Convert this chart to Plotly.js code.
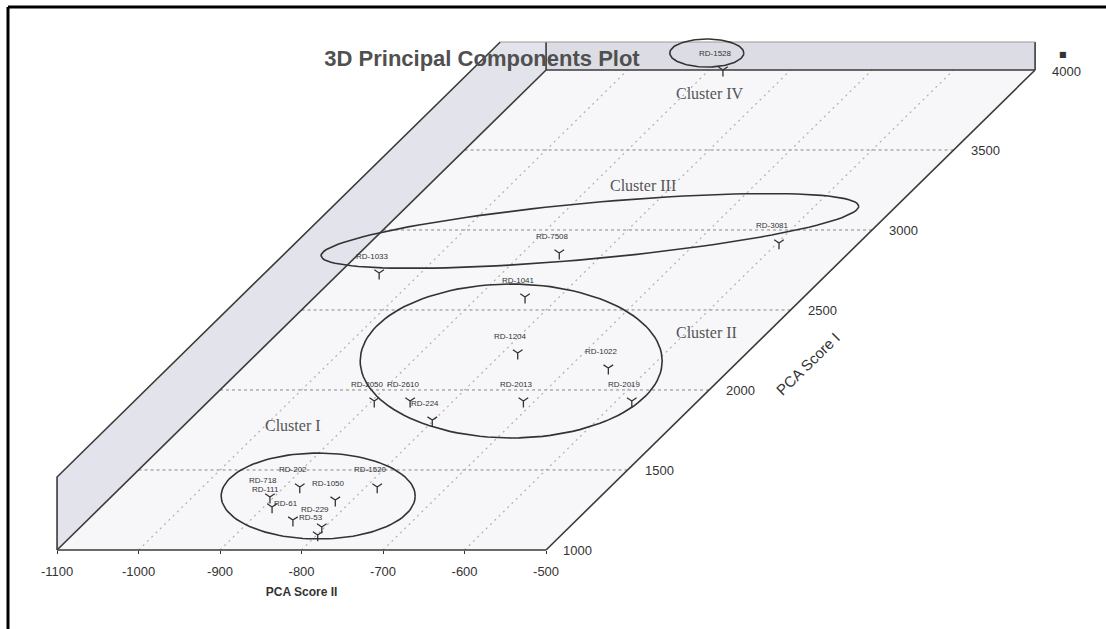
<!DOCTYPE html>
<html><head><meta charset="utf-8">
<script src="https://cdn.plot.ly/plotly-3.0.1.min.js"></script>
<style>html,body{margin:0;padding:0;background:#fff}#chart{width:1106px;height:629px}</style>
</head><body><div id="chart"></div>
<script>
// ---------- data ----------
const scoreIITicks = [-1100, -1000, -900, -800, -700, -600, -500];   // PCA Score II
const scoreITicks  = [1000, 1500, 2000, 2500, 3000, 3500, 4000];     // PCA Score I

const clusterINames   = ['RD-202', 'RD-1520', 'RD-718', 'RD-1050', 'RD-111', 'RD-61', 'RD-229', 'RD-53'];
const clusterIScoreII = [-881, -786, -905, -821, -890, -848, -804, -799];
const clusterIScoreI  = [1394, 1394, 1331, 1312, 1269, 1187, 1144, 1094];

const clusterIINames   = ['RD-1041', 'RD-1204', 'RD-1022', 'RD-2013', 'RD-2019', 'RD-2050', 'RD-2610', 'RD-224'];
const clusterIIScoreII = [-842, -781, -651, -714, -581, -897, -853, -802];
const clusterIIScoreI  = [2581, 2231, 2137, 1931, 1931, 1931, 1931, 1812];

const clusterIIINames   = ['RD-1033', 'RD-7508', 'RD-3081'];
const clusterIIIScoreII = [-1051, -855, -598];
const clusterIIIScoreI  = [2731, 2856, 2919];

const clusterIVNames   = ['RD-1528'];
const clusterIVScoreII = [-883];
const clusterIVScoreI  = [4000];

const clusterTitles        = ['Cluster I', 'Cluster II', 'Cluster III', 'Cluster IV'];
const clusterTitleScoreII  = [-967, -576, -836, -870];
const clusterTitleScoreI   = [1780, 2362, 3275, 3856];
const clusterCentreScoreII = [-847, -779, -845, -924];
const clusterCentreScoreI  = [1337, 2181, 2994, 4106];

// ---------- view / projection ----------
const W = 1106, H = 629;
const xr = [-1170, 187], yr = [506, 4437.5];
const SX = W / (xr[1] - xr[0]), SY = H / (yr[1] - yr[0]);
const SHEAR = 0.2;          // oblique projection of the PCA Score I depth axis
const Y0 = scoreITicks[0];
const WALL_H = 456;         // vertical extent of the walls
const BOX_TOP = 4175;       // top clip of the box
const proj = (X, Y) => X + SHEAR * (Y - Y0);
const X0 = scoreIITicks[0], X1 = scoreIITicks[scoreIITicks.length - 1];
const Ya = scoreITicks[0], Yb = scoreITicks[scoreITicks.length - 1];
const uTop = proj(X0, BOX_TOP - WALL_H);

// ellipse outline styles (pixel semi-axes, tilt)
const ellA = [97, 151, 270, 37], ellB = [43, 77, 28, 14], ellTilt = [0, 0, 5.3, 0];

const traces = [];
// floor
traces.push({x: [proj(X0, Ya), proj(X1, Ya), proj(X1, Yb), proj(X0, Yb)], y: [Ya, Ya, Yb, Yb],
  mode: 'lines', fill: 'toself', fillcolor: '#f7f7fa', line: {width: 0}, hoverinfo: 'skip'});
// left wall
traces.push({x: [proj(X0, Ya), proj(X0, Yb), proj(X0, Yb), uTop, proj(X0, Ya)],
  y: [Ya, Yb, BOX_TOP, BOX_TOP, Ya + WALL_H],
  mode: 'lines', fill: 'toself', fillcolor: '#e3e4eb', line: {width: 0}, hoverinfo: 'skip'});
// back wall strip
traces.push({x: [proj(X0, Yb), proj(X1, Yb), proj(X1, Yb), proj(X0, Yb)], y: [Yb, Yb, BOX_TOP, BOX_TOP],
  mode: 'lines', fill: 'toself', fillcolor: '#dcdde4', line: {width: 0}, hoverinfo: 'skip'});

// grid lines
const gx = [], gy = [];
scoreITicks.slice(1, -1).forEach(Y => { gx.push(proj(X0, Y), proj(X1, Y), null); gy.push(Y, Y, null); });
traces.push({x: gx, y: gy, mode: 'lines', line: {color: '#858585', width: 1, dash: 'dot'}, hoverinfo: 'skip'});
const dx = [], dy = [];
scoreIITicks.slice(1, -1).forEach(X => { dx.push(proj(X, Ya), proj(X, Yb), null); dy.push(Ya, Yb, null); });
traces.push({x: dx, y: dy, mode: 'lines', line: {color: '#b0b0b0', width: 1.2, dash: '2px,4px'}, hoverinfo: 'skip'});

// box edges
const ex = [proj(X0, Ya), proj(X0, Yb), null,
            proj(X1, Ya), proj(X1, Yb), null,
            proj(X0, Yb), proj(X1, Yb), null,
            proj(X0, Ya), proj(X0, Ya), uTop, null,
            proj(X1, Yb), proj(X1, Yb), null,
            proj(X0, Yb), proj(X0, Yb)];
const ey = [Ya, Yb, null, Ya, Yb, null, Yb, Yb, null, Ya, Ya + WALL_H, BOX_TOP, null, Yb, BOX_TOP, null, Yb, BOX_TOP];
traces.push({x: ex, y: ey, mode: 'lines', line: {color: '#3a3a3a', width: 1.6}, hoverinfo: 'skip'});
traces.push({x: [uTop, proj(X1, Yb)], y: [BOX_TOP, BOX_TOP], mode: 'lines', line: {color: '#9a9a9a', width: 1}, hoverinfo: 'skip'});
// front edge on the PCA Score II axis
traces.push({x: [X0, X1], y: [Ya, Ya], xaxis: 'x2', yaxis: 'y', mode: 'lines', line: {color: '#3a3a3a', width: 1.6}, hoverinfo: 'skip'});

// cluster ellipses
clusterTitles.forEach((c, i) => {
  const xs = [], ys = [];
  const phi = ellTilt[i] * Math.PI / 180;
  for (let k = 0; k <= 120; k++) {
    const t = 2 * Math.PI * k / 120;
    const px = ellA[i] * Math.cos(t) * Math.cos(phi) - ellB[i] * Math.sin(t) * Math.sin(phi);
    const py = ellA[i] * Math.cos(t) * Math.sin(phi) + ellB[i] * Math.sin(t) * Math.cos(phi);
    xs.push(proj(clusterCentreScoreII[i], clusterCentreScoreI[i]) + px / SX);
    ys.push(clusterCentreScoreI[i] + py / SY);
  }
  traces.push({x: xs, y: ys, mode: 'lines', line: {color: '#333', width: 1.6}, hoverinfo: 'skip'});
});

// points
const groups = [
  [clusterINames, clusterIScoreII, clusterIScoreI],
  [clusterIINames, clusterIIScoreII, clusterIIScoreI],
  [clusterIIINames, clusterIIIScoreII, clusterIIIScoreI],
  [clusterIVNames, clusterIVScoreII, clusterIVScoreI]
];
const annotations = [];
groups.forEach((g, i) => {
  const [names, s2, s1] = g;
  traces.push({x: s2.map((v, j) => proj(v, s1[j])), y: s1, text: names, name: clusterTitles[i],
    mode: 'markers', marker: {symbol: 'y-down-open', size: 8, line: {color: '#333', width: 1.3}, color: '#333'}});
  names.forEach((n, j) => annotations.push({x: proj(s2[j], s1[j]), y: s1[j], xref: 'x', yref: 'y', text: n,
    showarrow: false, xshift: -7, yshift: 17, font: {family: 'Liberation Sans, Arial', size: 8, color: '#333'}}));
});

clusterTitles.forEach((c, i) => annotations.push({x: proj(clusterTitleScoreII[i], clusterTitleScoreI[i]), y: clusterTitleScoreI[i],
  xref: 'x', yref: 'y', text: c, showarrow: false, font: {family: 'Liberation Serif, Times New Roman, serif', size: 16, color: '#555'}}));

// PCA Score I tick labels along the slanted axis
scoreITicks.forEach(Y => annotations.push({x: proj(X1, Y), y: Y, xref: 'x', yref: 'y', text: String(Y), showarrow: false,
  xanchor: 'left', xshift: 15, yshift: -1, font: {family: 'Liberation Sans, Arial', size: 13, color: '#333'}}));
annotations.push({x: proj(X1, Yb), y: Yb, xref: 'x', yref: 'y', text: '■', showarrow: false, xanchor: 'left',
  xshift: 22, yshift: 16, font: {family: 'DejaVu Sans', size: 8, color: '#333'}});
annotations.push({x: proj(X1, 2240), y: 2240, xref: 'x', yref: 'y', text: 'PCA Score I', showarrow: false, textangle: -44.5,
  xshift: 60, yshift: -12, font: {family: 'Liberation Sans, Arial', size: 15, color: '#333'}});

const layout = {
  width: W, height: H, margin: {l: 0, r: 0, t: 0, b: 0},
  paper_bgcolor: '#fff', plot_bgcolor: 'rgba(0,0,0,0)', showlegend: false,
  title: {text: '3D Principal Components Plot', x: 482 / W, xanchor: 'center', y: 1 - 58 / H, yanchor: 'middle',
    font: {family: 'Liberation Sans, Arial', size: 22, weight: 'bold', color: '#505050'}},
  xaxis: {range: xr, visible: false, fixedrange: true},
  yaxis: {range: yr, visible: false, fixedrange: true},
  xaxis2: {domain: [(X0 - xr[0]) / (xr[1] - xr[0]), (X1 - xr[0]) / (xr[1] - xr[0])], range: [X0, X1],
    anchor: 'free', position: (Ya - yr[0]) / (yr[1] - yr[0]),
    showgrid: false, zeroline: false, showline: false, ticks: 'outside', ticklen: 3, tickcolor: '#333',
    tickvals: scoreIITicks, ticktext: scoreIITicks.map(String), ticklabelstandoff: 6,
    tickfont: {family: 'Liberation Sans, Arial', size: 13, color: '#333'},
    title: {text: 'PCA Score II', standoff: 10, font: {family: 'Liberation Sans, Arial', size: 12, weight: 'bold', color: '#333'}}},
  annotations: annotations,
  shapes: [
    {type: 'line', xref: 'paper', yref: 'paper', x0: 8 / W, x1: 1, y0: 1 - 7 / H, y1: 1 - 7 / H, line: {color: '#000', width: 3}},
    {type: 'line', xref: 'paper', yref: 'paper', x0: 8 / W, x1: 8 / W, y0: 0, y1: 1 - 7 / H, line: {color: '#000', width: 3}}
  ]
};
Plotly.newPlot('chart', traces, layout, {staticPlot: true});
</script></body></html>
